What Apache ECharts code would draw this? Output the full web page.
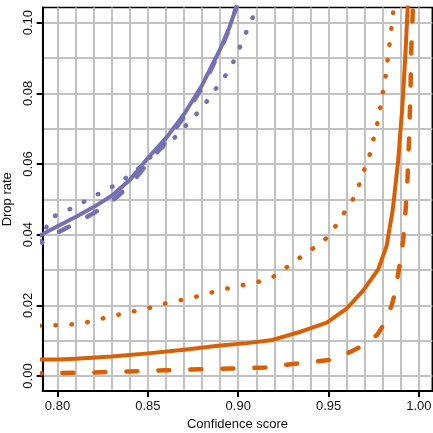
<!DOCTYPE html>
<html>
<head>
<meta charset="utf-8">
<script src="https://cdn.jsdelivr.net/npm/echarts@6/dist/echarts.min.js"></script>
<style>
  html, body { margin: 0; padding: 0; background: #fff; }
  #chart { width: 433px; height: 433px; }
</style>
</head>
<body>
<div id="chart"></div>
<script>
// axis ticks / labels
const xTicks = [0.80, 0.85, 0.90, 0.95, 1.00];
const yTicks = [0.00, 0.02, 0.04, 0.06, 0.08, 0.10];
const xGrid = [0.80, 0.81, 0.82, 0.83, 0.84, 0.85, 0.86, 0.87, 0.88, 0.89, 0.90,
               0.91, 0.92, 0.93, 0.94, 0.95, 0.96, 0.97, 0.98, 0.99, 1.00];
const yGrid = [0.00, 0.01, 0.02, 0.03, 0.04, 0.05, 0.06, 0.07, 0.08, 0.09, 0.10];

// purple curves [confidence, drop rate]
const purpleSolid = [
  [0.785, 0.0385], [0.79, 0.0397], [0.80, 0.0424], [0.81, 0.0450], [0.82, 0.0478],
  [0.83, 0.0510], [0.84, 0.0555], [0.85, 0.0617], [0.86, 0.0673], [0.87, 0.0741],
  [0.88, 0.0823], [0.89, 0.0925], [0.895, 0.0985], [0.899, 0.1045]
];
const purpleDashed = [
  [0.785, 0.0368], [0.79, 0.0380], [0.80, 0.0406], [0.81, 0.0432], [0.82, 0.0461],
  [0.83, 0.0494], [0.84, 0.0540], [0.85, 0.0603], [0.86, 0.0662], [0.87, 0.0734],
  [0.88, 0.0817], [0.89, 0.0920], [0.895, 0.0982], [0.899, 0.1045]
];
const purpleDotted = [
  [0.7915, 0.0377], [0.7952, 0.0446], [0.8032, 0.0463], [0.8115, 0.0484], [0.819, 0.0506],
  [0.8273, 0.0527], [0.835, 0.0550], [0.8439, 0.0583], [0.8541, 0.0633], [0.8634, 0.0667],
  [0.8753, 0.0732], [0.8813, 0.0768], [0.8866, 0.0806], [0.892, 0.0843], [0.8966, 0.0881],
  [0.9003, 0.0923], [0.9038, 0.0966], [0.9075, 0.1008], [0.9105, 0.1050]
];

// orange curves
const orangeSolid = [
  [0.785, 0.0047], [0.80, 0.0047], [0.81, 0.0049], [0.83, 0.0055], [0.85, 0.0064],
  [0.87, 0.0074], [0.89, 0.0086], [0.905, 0.0093], [0.918, 0.0101], [0.935, 0.0126],
  [0.949, 0.0151], [0.960, 0.0191], [0.969, 0.0241], [0.9775, 0.0302], [0.9821, 0.0368],
  [0.9855, 0.0470], [0.9885, 0.0610], [0.9908, 0.0760], [0.9924, 0.0900], [0.9938, 0.1045]
];
const orangeDashed = [
  [0.785, 0.0007], [0.80, 0.0008], [0.82, 0.0010], [0.84, 0.0013], [0.86, 0.0016],
  [0.88, 0.0019], [0.895, 0.0021], [0.915, 0.0024], [0.93, 0.0034], [0.95, 0.0045],
  [0.962, 0.0068], [0.969, 0.0086], [0.977, 0.0117], [0.981, 0.0150], [0.9849, 0.0200],
  [0.9867, 0.0234], [0.9885, 0.0290], [0.9899, 0.0330], [0.9913, 0.0385], [0.9925, 0.0460],
  [0.9937, 0.0560], [0.9946, 0.0680], [0.9953, 0.0800], [0.9958, 0.0930], [0.9967, 0.1045]
];
const orangeDotted = [
  [0.790, 0.0142], [0.7968, 0.0143], [0.8057, 0.0145], [0.8147, 0.0150], [0.8236, 0.0161],
  [0.8323, 0.0172], [0.8412, 0.0182], [0.8498, 0.0191], [0.8585, 0.0204], [0.8674, 0.0214],
  [0.8763, 0.0224], [0.885, 0.0236], [0.8935, 0.0247], [0.9025, 0.0257], [0.9114, 0.0267],
  [0.9194, 0.0281], [0.9269, 0.0308], [0.9342, 0.0335], [0.9416, 0.0362], [0.9488, 0.0390],
  [0.9541, 0.0426], [0.959, 0.0465], [0.9641, 0.0505], [0.9673, 0.0547], [0.9702, 0.0590],
  [0.9732, 0.0633], [0.9752, 0.0679], [0.9774, 0.0724], [0.9789, 0.0768], [0.9804, 0.0815],
  [0.982, 0.0860], [0.9829, 0.0906], [0.984, 0.0951], [0.985, 0.0995], [0.986, 0.1042]
];

const X_MIN = 0.7918, X_MAX = 1.0074;
const Y_MIN = -0.00425, Y_MAX = 0.1043;

const PURPLE = '#7570b3';
const ORANGE = '#d95f02';
const FONT = 'Liberation Sans, Arial, Helvetica, sans-serif';

const chart = echarts.init(document.getElementById('chart'), null, { renderer: 'canvas' });

function lineSeries(data, color, kind) {
  let lineStyle = { color: color, width: 4, cap: 'round', join: 'round' };
  if (kind === 'dashed') {
    lineStyle.type = [11, 21];
    lineStyle.width = 4.5;
  } else if (kind === 'dotted') {
    lineStyle.type = [0.5, 15.5];
    lineStyle.width = 4.5;
  }
  return {
    type: 'line',
    data: data,
    symbol: 'none',
    clip: true,
    lineStyle: lineStyle,
    xAxisIndex: 0,
    yAxisIndex: 0
  };
}

const option = {
  animation: false,
  backgroundColor: '#fff',
  grid: {
    left: 42.7, right: 0.7, top: 7.5, bottom: 42,
    containLabel: false,
    outerBoundsMode: 'none',
    show: true,
    borderColor: '#000',
    borderWidth: 1.5,
    backgroundColor: 'transparent'
  },
  xAxis: [
    {
      type: 'value', min: X_MIN, max: X_MAX, position: 'bottom',
      name: 'Confidence score', nameLocation: 'middle', nameGap: 26,
      nameTextStyle: { fontFamily: FONT, fontSize: 13, color: '#111' },
      axisLine: { show: true, onZero: false, lineStyle: { color: '#000', width: 2 } },
      axisTick: { show: true, customValues: xTicks, length: 6, lineStyle: { color: '#000', width: 2 } },
      axisLabel: { customValues: xTicks, margin: 9, fontFamily: FONT, fontSize: 13, color: '#111',
        formatter: v => v.toFixed(2) },
      splitLine: { show: false }
    },
    {
      type: 'value', min: X_MIN, max: X_MAX, position: 'bottom',
      axisLine: { show: false },
      axisTick: { show: false, customValues: xGrid },
      axisLabel: { show: false },
      splitLine: { show: true, lineStyle: { color: '#c2c2c2', width: 2 } }
    }
  ],
  yAxis: [
    {
      type: 'value', min: Y_MIN, max: Y_MAX, position: 'left',
      name: 'Drop rate', nameLocation: 'middle', nameGap: 24,
      nameTextStyle: { fontFamily: FONT, fontSize: 13, color: '#111' },
      axisLine: { show: true, onZero: false, lineStyle: { color: '#000', width: 2 } },
      axisTick: { show: true, customValues: yTicks, length: 6, lineStyle: { color: '#000', width: 2 } },
      axisLabel: { customValues: yTicks, rotate: 90, margin: 8, fontFamily: FONT, fontSize: 13, color: '#111',
        formatter: v => v.toFixed(2) },
      splitLine: { show: false }
    },
    {
      type: 'value', min: Y_MIN, max: Y_MAX, position: 'left',
      axisLine: { show: false },
      axisTick: { show: false, customValues: yGrid },
      axisLabel: { show: false },
      splitLine: { show: true, lineStyle: { color: '#c2c2c2', width: 2 } }
    }
  ],
  series: [
    lineSeries(orangeDotted, ORANGE, 'dotted'),
    lineSeries(orangeDashed, ORANGE, 'dashed'),
    lineSeries(orangeSolid, ORANGE, 'solid'),
    lineSeries(purpleDotted, PURPLE, 'dotted'),
    lineSeries(purpleDashed, PURPLE, 'dashed'),
    lineSeries(purpleSolid, PURPLE, 'solid')
  ]
};

chart.setOption(option);
</script>
</body>
</html>
